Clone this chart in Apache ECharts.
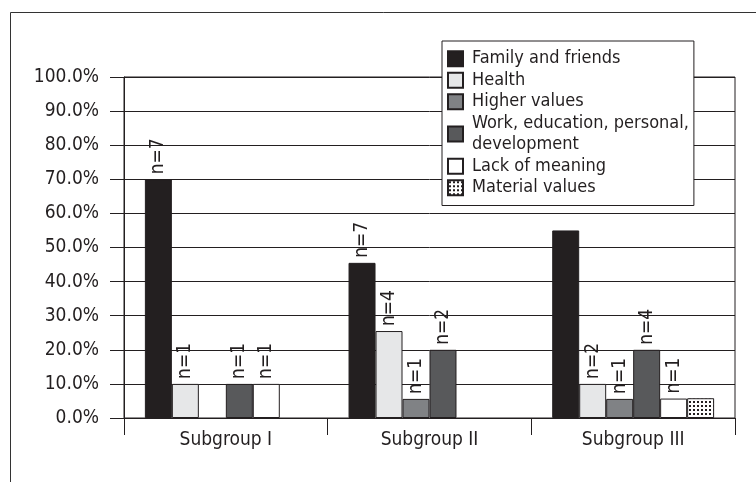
<!DOCTYPE html>
<html>
<head>
<meta charset="utf-8">
<script src="https://cdn.jsdelivr.net/npm/echarts@6/dist/echarts.min.js"></script>
<style>
  html, body { margin: 0; padding: 0; background: #fff; }
  #chart { width: 756px; height: 482px; }
</style>
</head>
<body>
<div id="chart"></div>
<script>
var categories = ['Subgroup I', 'Subgroup II', 'Subgroup III'];
var seriesNames = ['Family and friends', 'Health', 'Higher values',
  'Work, education, personal,\ndevelopment', 'Lack of meaning', 'Material values'];

// percentages
var family   = [70, 45.5, 55];
var health   = [10, 25.5, 10];
var higher   = [null, 5.6, 5.6];
var work     = [10, 20, 20];
var lack     = [10, null, 5.7];
var material = [null, null, 5.8];

// n= labels above bars
var nFamily   = [7, 7, null];
var nHealth   = [1, 4, 2];
var nHigher   = [null, 1, 1];
var nWork     = [1, 2, 4];
var nLack     = [1, null, 1];
var nMaterial = [null, null, null];

var yTicks = [0, 10, 20, 30, 40, 50, 60, 70, 80, 90, 100];

var font = "'Liberation Sans Narrow', 'DejaVu Sans Condensed', sans-serif";
var ink = '#231f20';

// dotted fill for material values
var pat = document.createElement('canvas');
pat.width = 4; pat.height = 4;
var pctx = pat.getContext('2d');
pctx.fillStyle = '#fff';
pctx.fillRect(0, 0, 4, 4);
pctx.fillStyle = ink;
pctx.fillRect(1, 1, 2, 2);

var fills = ['#231f20', '#e6e7e8', '#808285', '#58595b', '#ffffff', { image: pat, repeat: 'repeat' }];
var values = [family, health, higher, work, lack, material];
var counts = [nFamily, nHealth, nHigher, nWork, nLack, nMaterial];

var series = values.map(function (vals, i) {
  return {
    name: seriesNames[i],
    type: 'bar',
    barGap: '0%',
    barCategoryGap: '20.5%',
    data: vals,
    itemStyle: { color: fills[i], borderColor: ink, borderWidth: 1 },
    label: {
      show: true,
      position: 'top',
      rotate: 90,
      align: 'left',
      verticalAlign: 'middle',
      distance: 5,
      fontFamily: font,
      fontSize: 19,
      color: ink,
      formatter: function (p) {
        var n = counts[i][p.dataIndex];
        return n == null ? '' : 'n=' + n;
      }
    }
  };
});

var chart = echarts.init(document.getElementById('chart'));
var option = {
  animation: false,
  backgroundColor: '#fff',
  graphic: [{
    type: 'rect',
    left: 8, top: 10,
    shape: { width: 900, height: 600 },
    style: { fill: 'none', stroke: '#333', lineWidth: 1 },
    silent: true,
    z: -10
  }],
  grid: {
    left: 124, right: 21, top: 77, bottom: 64,
    show: true, borderColor: ink, borderWidth: 1
  },
  legend: {
    orient: 'vertical',
    left: 442, top: 41,
    padding: [7, 5, 7, 5],
    itemGap: 0,
    icon: 'rect',
    itemWidth: 15,
    itemHeight: 15,
    backgroundColor: '#fff',
    borderColor: ink,
    borderWidth: 1,
    textStyle: { fontFamily: font, fontSize: 18, color: ink, lineHeight: 21.5, padding: [0, 0, 0, 4] },
    data: seriesNames
  },
  xAxis: {
    type: 'category',
    data: categories,
    axisLine: { lineStyle: { color: ink, width: 1 } },
    axisTick: { show: true, length: 17, lineStyle: { color: ink } },
    axisLabel: { fontFamily: font, fontSize: 19, color: ink, margin: 13 }
  },
  yAxis: {
    type: 'value',
    min: 0, max: 100, interval: 10,
    axisLine: { show: true, lineStyle: { color: ink } },
    axisTick: { show: true, length: 14, lineStyle: { color: ink } },
    axisLabel: {
      fontFamily: font, fontSize: 19, color: ink, margin: 25,
      formatter: function (v) { return yTicks.indexOf(v) >= 0 ? v.toFixed(1) + '%' : ''; }
    },
    splitLine: { show: true, lineStyle: { color: ink, width: 1 } }
  },
  series: series
};
chart.setOption(option);
</script>
</body>
</html>
